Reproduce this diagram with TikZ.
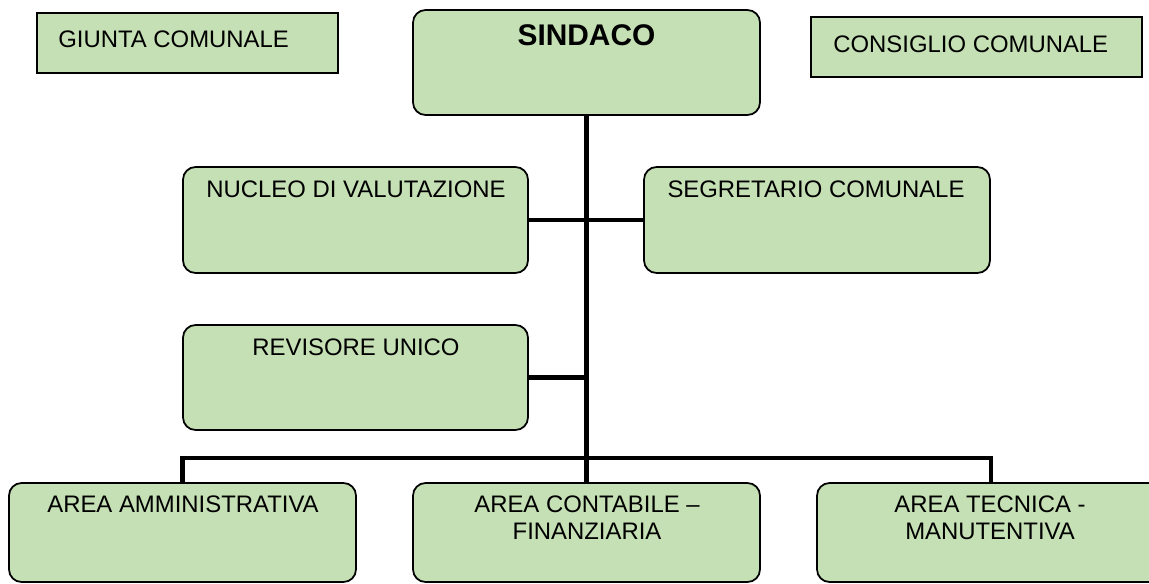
\documentclass[tikz,border=0pt]{standalone}
\usepackage{fontspec}
\setmainfont{Liberation Sans}
\definecolor{boxgreen}{HTML}{C5E0B4}

\begin{document}
\begin{tikzpicture}[x=0.02cm, y=-0.02cm,
		box/.style={draw=black, line width=1pt, fill=boxgreen, inner sep=0pt},
		roundbox/.style={box, rounded corners=0.25cm},
		lbl/.style={inner sep=0pt, font=\fontsize{13.6}{15.9}\selectfont},
		link/.style={line width=2.8pt},
		trunk/.style={line width=3.4pt}]
			%%%%% START %%%%%
			
			\clip (0,0) rectangle (1149,583);
			
			% top row
			\node[box, minimum width=6.02cm, minimum height=1.2cm] (giunta) at (187.5,43) {};
			\node[box, minimum width=6.62cm, minimum height=1.2cm] (consiglio) at (976.5,47) {};
			\node[roundbox, minimum width=6.94cm, minimum height=2.1cm] (sindaco) at (586.5,62.5) {};
			
			% staff boxes
			\node[roundbox, minimum width=6.9cm, minimum height=2.12cm] (nucleo) at (355.5,220) {};
			\node[roundbox, minimum width=6.92cm, minimum height=2.12cm] (segretario) at (817,220) {};
			\node[roundbox, minimum width=6.9cm, minimum height=2.1cm] (revisore) at (355.5,377.5) {};
			
			% areas
			\node[roundbox, minimum width=6.94cm, minimum height=1.98cm] (amministrativa) at (182.5,532.5) {};
			\node[roundbox, minimum width=6.94cm, minimum height=1.98cm] (contabile) at (586.5,532.5) {};
			\node[roundbox, minimum width=6.96cm, minimum height=1.98cm] (tecnica) at (991,532.5) {};
			
			\coordinate (hub) at (586.5,458);
			
			\draw[trunk] (sindaco.south) -- (hub);
			\draw[link] (nucleo.east) -- (segretario.west);
			\draw[link] (revisore.east) -- (revisore.east -| hub);
			\draw[link] (amministrativa.north) |- (hub) -| (tecnica.north);
			\draw[link] (hub) -- (contabile.north);
			
			% texts
			\node[lbl, anchor=base west] (giuntaT) at (58,47) {GIUNTA COMUNALE};
			\node[lbl, anchor=base west] (consiglioT) at (833,52) {CONSIGLIO COMUNALE};
			\node[lbl, anchor=base, font=\fontsize{17}{20}\selectfont\bfseries] (sindacoT) at (586.5,45) {SINDACO};
			\node[lbl, anchor=base] (nucleoT) at (356,197) {NUCLEO DI VALUTAZIONE};
			\node[lbl, anchor=base] (segretarioT) at (816,197) {SEGRETARIO COMUNALE};
			\node[lbl, anchor=base] (revisoreT) at (356,355) {REVISORE UNICO};
			\node[lbl, anchor=base] (amministrativaT) at (183,512) {AREA AMMINISTRATIVA};
			\node[lbl, anchor=north, align=center] (contabileT) at (587,495) {AREA CONTABILE --\\FINANZIARIA};
			\node[lbl, anchor=north, align=center] (tecnicaT) at (990,495) {AREA TECNICA -\\MANUTENTIVA};
			
			%%%%% END %%%%%
		\end{tikzpicture}
\end{document}
